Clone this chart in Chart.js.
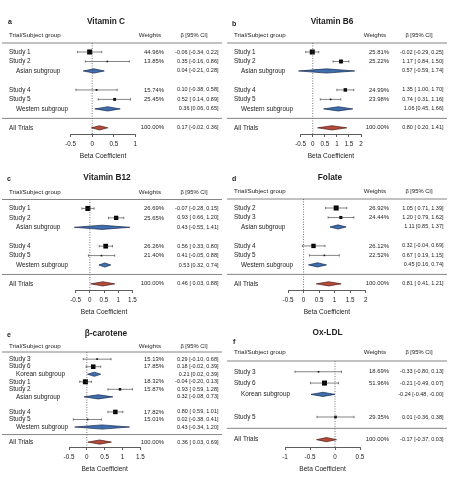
<!DOCTYPE html>
<html>
<head>
<meta charset="utf-8">
<script src="https://cdn.jsdelivr.net/npm/chart.js@4.4.1/dist/chart.umd.min.js"></script>
<style>
  body { margin: 0; background: #fff; }
  #fig { position: relative; width: 451px; height: 480px; overflow: hidden; }
  #fig canvas { position: absolute; }
</style>
</head>
<body>
<div id="fig"></div>
<script>
// a - Vitamin C
const vitCRows = ["Study 1", "Study 2", "Asian subgroup", "", "Study 4", "Study 5", "Western subgroup", "", "All Trials"];
const vitCWeights = [44.96, 13.85, null, null, 15.74, 25.45, null, null, 100.00];
const vitCBeta = [-0.06, 0.35, 0.04, null, 0.10, 0.52, 0.36, null, 0.17];
const vitCLower = [-0.34, -0.16, -0.21, null, -0.38, 0.14, 0.06, null, -0.02];
const vitCUpper = [0.22, 0.86, 0.28, null, 0.58, 0.89, 0.65, null, 0.36];
const vitCTicks = [-0.5, 0, 0.5, 1];

// b - Vitamin B6
const vitB6Rows = ["Study 1", "Study 2", "Asian subgroup", "", "Study 4", "Study 5", "Western subgroup", "", "All Trials"];
const vitB6Weights = [25.81, 25.22, null, null, 24.99, 23.98, null, null, 100.00];
const vitB6Beta = [-0.02, 1.17, 0.57, null, 1.35, 0.74, 1.06, null, 0.80];
const vitB6Lower = [-0.29, 0.84, -0.59, null, 1.00, 0.31, 0.45, null, 0.20];
const vitB6Upper = [0.25, 1.50, 1.74, null, 1.70, 1.16, 1.66, null, 1.41];
const vitB6Ticks = [-0.5, 0, 0.5, 1, 1.5, 2];

// c - Vitamin B12
const vitB12Rows = ["Study 1", "Study 2", "Asian subgroup", "", "Study 4", "Study 5", "Western subgroup", "", "All Trials"];
const vitB12Weights = [26.69, 25.65, null, null, 26.26, 21.40, null, null, 100.00];
const vitB12Beta = [-0.07, 0.93, 0.43, null, 0.56, 0.41, 0.53, null, 0.46];
const vitB12Lower = [-0.28, 0.66, -0.55, null, 0.33, -0.05, 0.32, null, 0.03];
const vitB12Upper = [0.15, 1.20, 1.41, null, 0.80, 0.88, 0.74, null, 0.88];
const vitB12Ticks = [-0.5, 0, 0.5, 1, 1.5];

// d - Folate
const folateRows = ["Study 2", "Study 3", "Asian subgroup", "", "Study 4", "Study 5", "Western subgroup", "", "All Trials"];
const folateWeights = [26.92, 24.44, null, null, 26.12, 22.52, null, null, 100.00];
const folateBeta = [1.05, 1.20, 1.11, null, 0.32, 0.67, 0.45, null, 0.81];
const folateLower = [0.71, 0.79, 0.85, null, -0.04, 0.19, 0.16, null, 0.41];
const folateUpper = [1.39, 1.62, 1.37, null, 0.69, 1.15, 0.74, null, 1.21];
const folateTicks = [-0.5, 0, 0.5, 1, 1.5, 2];

// e - beta-carotene
const caroteneRows = ["Study 3", "Study 6", "Korean subgroup", "Study 1", "Study 2", "Asian subgroup", "", "Study 4", "Study 5", "Western subgroup", "", "All Trials"];
const caroteneWeights = [15.13, 17.85, null, 18.32, 15.87, null, null, 17.82, 15.01, null, null, 100.00];
const caroteneBeta = [0.29, 0.18, 0.21, -0.04, 0.93, 0.32, null, 0.80, 0.02, 0.43, null, 0.36];
const caroteneLower = [-0.10, -0.02, 0.02, -0.20, 0.59, -0.08, null, 0.59, -0.38, -0.34, null, 0.03];
const caroteneUpper = [0.68, 0.39, 0.39, 0.13, 1.28, 0.73, null, 1.01, 0.41, 1.20, null, 0.69];
const caroteneTicks = [-0.5, 0, 0.5, 1, 1.5];

// f - Ox-LDL
const oxldlRows = ["Study 3", "Study 6", "Korean subgroup", "", "Study 5", "", "All Trials"];
const oxldlWeights = [18.69, 51.96, null, null, 29.35, null, 100.00];
const oxldlBeta = [-0.33, -0.21, -0.24, null, 0.01, null, -0.17];
const oxldlLower = [-0.80, -0.49, -0.48, null, -0.36, null, -0.37];
const oxldlUpper = [0.13, 0.07, -0.00, null, 0.38, null, 0.03];
const oxldlTicks = [-1, -0.5, 0, 0.5];

const FONT = '"Liberation Sans", Arial, Helvetica, sans-serif';
Chart.defaults.font.family = FONT;
Chart.defaults.color = '#222';

const panels = [
  { id: 'a', title: 'Vitamin C', rows: vitCRows, weights: vitCWeights, beta: vitCBeta, lower: vitCLower, upper: vitCUpper, ticks: vitCTicks,
    left: 0, top: 0, w: 225, h: 165, axisL: 70.7, axisR: 135.3, T: 43, B: 134, labelX: 8, labelY: 22, titleX: 106, titleY: 22 },
  { id: 'b', title: 'Vitamin B6', rows: vitB6Rows, weights: vitB6Weights, beta: vitB6Beta, lower: vitB6Lower, upper: vitB6Upper, ticks: vitB6Ticks,
    left: 225, top: 0, w: 226, h: 165, axisL: 75.7, axisR: 136, T: 43, B: 134, labelX: 7, labelY: 24, titleX: 107, titleY: 22 },
  { id: 'c', title: 'Vitamin B12', rows: vitB12Rows, weights: vitB12Weights, beta: vitB12Beta, lower: vitB12Lower, upper: vitB12Upper, ticks: vitB12Ticks,
    left: 0, top: 157, w: 225, h: 165, axisL: 75.7, axisR: 132.3, T: 42.5, B: 133, labelX: 7, labelY: 22, titleX: 107, titleY: 21 },
  { id: 'd', title: 'Folate', rows: folateRows, weights: folateWeights, beta: folateBeta, lower: folateLower, upper: folateUpper, ticks: folateTicks,
    left: 225, top: 157, w: 226, h: 165, axisL: 63, axisR: 140.7, T: 42, B: 133, labelX: 7, labelY: 22, titleX: 105, titleY: 21 },
  { id: 'e', title: 'β-carotene', rows: caroteneRows, weights: caroteneWeights, beta: caroteneBeta, lower: caroteneLower, upper: caroteneUpper, ticks: caroteneTicks,
    left: 0, top: 312, w: 225, h: 168, axisL: 69, axisR: 140.3, T: 40, B: 135, labelX: 7, labelY: 23, titleX: 106, titleY: 22 },
  { id: 'f', title: 'Ox-LDL', rows: oxldlRows, weights: oxldlWeights, beta: oxldlBeta, lower: oxldlLower, upper: oxldlUpper, ticks: oxldlTicks,
    left: 225, top: 312, w: 226, h: 168, axisL: 60, axisR: 135, T: 49, B: 135, labelX: 8, labelY: 30, titleX: 102.5, titleY: 21 }
];

// number formatting like the R output
const fmt = v => (v < 0 || Object.is(v, -0) ? '-' : '') + Math.abs(v).toFixed(2);
const ciText = (b, lo, hi, pad) => {
  const lead = pad && !(lo < 0 || Object.is(lo, -0)) ? ' ' : '';
  return fmt(b) + ' [' + lead + fmt(lo) + ', ' + fmt(hi) + ']';
};

const forestText = {
  id: 'forestText',
  afterDraw(chart, args, opts) {
    const p = opts.panel;
    if (!p) return;
    const ctx = chart.ctx, y = chart.scales.y, area = chart.chartArea;
    ctx.save();
    ctx.fillStyle = '#222';
    ctx.textBaseline = 'middle';
    ctx.font = 'bold 7px ' + FONT;
    ctx.textAlign = 'left';
    ctx.fillText(p.id, p.labelX, p.labelY);
    ctx.font = 'bold 8.3px ' + FONT;
    ctx.textAlign = 'center';
    ctx.fillText(p.title, p.titleX, p.titleY);

    const hy = y.getPixelForValue(-1.75);
    ctx.font = '6.2px ' + FONT;
    ctx.textAlign = 'left';
    ctx.fillText('Trial/Subject group', 9, hy);
    ctx.textAlign = 'right';
    ctx.fillText('Weights', 161, hy);
    ctx.font = '5.8px ' + FONT;
    ctx.textAlign = 'center';
    ctx.fillText('β [95% CI]', 194, hy);

    // header rule and the rule above All Trials
    ctx.strokeStyle = '#666';
    ctx.lineWidth = 0.8;
    const sepRow = p.rows.lastIndexOf('');
    [area.top, y.getPixelForValue(sepRow)].forEach(ly => {
      ctx.beginPath();
      ctx.moveTo(2, ly);
      ctx.lineTo(222, ly);
      ctx.stroke();
    });

    p.rows.forEach((label, i) => {
      if (!label) return;
      const ry = y.getPixelForValue(i);
      const sub = label.endsWith('subgroup');
      ctx.font = '6.4px ' + FONT;
      ctx.textAlign = 'left';
      ctx.fillText(label, sub ? 16 : 9, ry);
      ctx.textAlign = 'right';
      ctx.font = '5.9px ' + FONT;
      if (p.weights[i] != null) ctx.fillText(p.weights[i].toFixed(2) + '%', 164, ry);
      ctx.font = '5.5px ' + FONT;
      ctx.fillText(ciText(p.beta[i], p.lower[i], p.upper[i], !sub), 218.5, ry);
    });
    ctx.restore();
  }
};

const fig = document.getElementById('fig');

function buildPanel(p) {
  const canvas = document.createElement('canvas');
  canvas.width = p.w;
  canvas.height = p.h;
  canvas.style.left = p.left + 'px';
  canvas.style.top = p.top + 'px';
  fig.appendChild(canvas);

  const n = p.rows.length;
  const yMin = -0.95, yMax = n - 1 + 0.65;
  const step = (p.B - p.T) / (yMax - yMin);
  const dh = 2.1 / step; // diamond half height in rows
  const axisH = 22 + 6.6 * 1.2 / 2;

  const studies = [], diamonds = [];
  p.rows.forEach((r, i) => {
    if (r.startsWith('Study')) studies.push(i);
    else if (r) diamonds.push(i);
  });
  const sw = studies.map(i => p.weights[i]);
  const wMin = Math.min(...sw), wMax = Math.max(...sw);
  const sizes = studies.map(i => (1.6 + 3.4 * (p.weights[i] - wMin) / (wMax - wMin)) / Math.SQRT2);

  const datasets = [];
  // zero line
  datasets.push({
    type: 'line', data: [{ x: 0, y: yMin }, { x: 0, y: yMax }],
    borderColor: '#555', borderWidth: 0.8, borderDash: [1, 1.5], pointRadius: 0, clip: false
  });
  // confidence intervals
  studies.forEach(i => datasets.push({
    type: 'line', data: [{ x: p.lower[i], y: i }, { x: p.upper[i], y: i }],
    borderColor: '#333', borderWidth: 0.6, pointStyle: 'line', pointRotation: 90,
    pointRadius: 1.2, pointBorderColor: '#333', pointBorderWidth: 0.6, clip: false
  }));
  // study squares
  datasets.push({
    type: 'scatter', data: studies.map(i => ({ x: p.beta[i], y: i })),
    pointStyle: 'rect', pointRadius: sizes, backgroundColor: '#000', borderColor: '#000', borderWidth: 0, clip: false
  });
  // subgroup and overall diamonds
  diamonds.forEach(i => {
    const overall = p.rows[i] === 'All Trials';
    datasets.push({
      type: 'line',
      data: [{ x: p.lower[i], y: i }, { x: p.beta[i], y: i - dh }, { x: p.upper[i], y: i }, { x: p.beta[i], y: i + dh }, { x: p.lower[i], y: i }],
      fill: 'shape', backgroundColor: overall ? '#b84a3c' : '#3e6fae',
      borderColor: overall ? '#4a1c14' : '#16284f', borderWidth: 0.7, pointRadius: 0, tension: 0, clip: false
    });
  });

  new Chart(canvas, {
    type: 'scatter',
    data: { datasets },
    options: {
      responsive: false,
      animation: false,
      events: [],
      layout: { padding: { left: p.axisL, right: p.w - p.axisR, top: p.T, bottom: p.h - p.B - axisH } },
      plugins: { legend: { display: false }, tooltip: { enabled: false }, forestText: { panel: p } },
      scales: {
        x: {
          type: 'linear', min: p.ticks[0], max: p.ticks[p.ticks.length - 1],
          afterBuildTicks: s => { s.ticks = p.ticks.map(v => ({ value: v })); },
          afterFit: s => { s.height = axisH; },
          grid: { drawOnChartArea: false, drawTicks: true, tickLength: 3, color: '#333', lineWidth: 0.8 },
          border: { display: true, color: '#333', width: 0.8 },
          ticks: { font: { size: 6.3 }, color: '#222', padding: 3, maxRotation: 0, autoSkip: false, callback: v => String(v) },
          title: { display: true, text: 'Beta Coefficient', font: { size: 6.6 }, color: '#222', padding: 0 }
        },
        y: { type: 'linear', display: false, reverse: true, min: yMin, max: yMax }
      }
    },
    plugins: [forestText]
  });
}

panels.forEach(buildPanel);
</script>
</body>
</html>
